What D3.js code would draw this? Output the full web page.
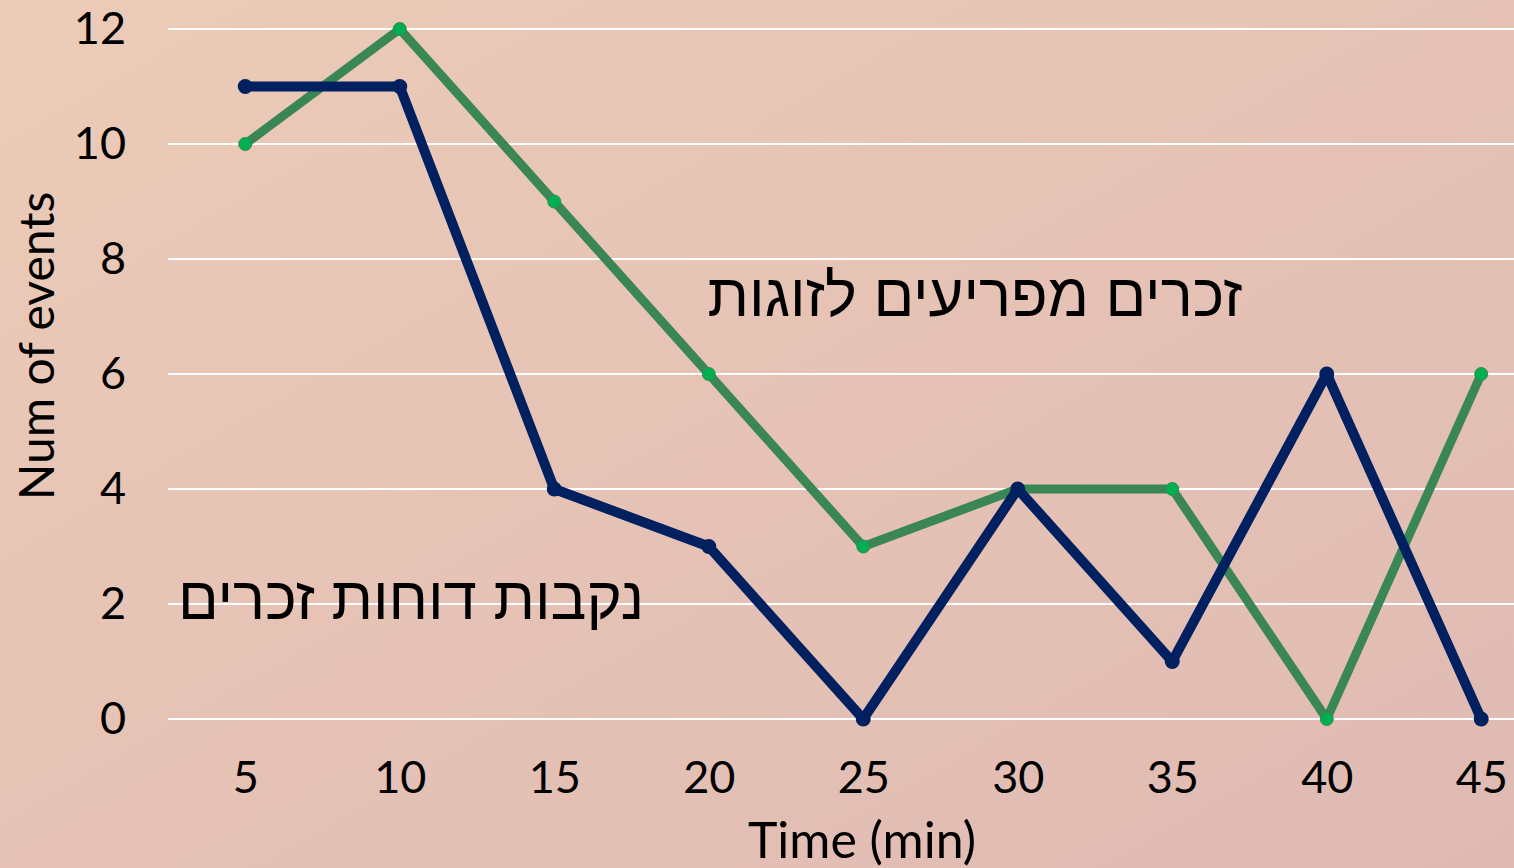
<!DOCTYPE html>
<html><head><meta charset="utf-8">
<script src="https://cdn.jsdelivr.net/npm/d3@7"></script>
<style>html,body{margin:0;padding:0;overflow:hidden;}svg{display:block;}</style>
</head><body>
<svg id="chart" width="1514" height="868"></svg>
<script>
const categories = ["5","10","15","20","25","30","35","40","45"];
const maleRepels = [10,12,9,6,3,4,4,0,6];      // green: זכרים מפריעים לזוגות
const femaleRejects = [11,11,4,3,0,4,1,6,0];   // navy: נקבות דוחות זכרים
const yTicks = [0,2,4,6,8,10,12];

const svg = d3.select("#chart");
const W = 1514, H = 868;
const defs = svg.append("defs");
const grad = defs.append("linearGradient").attr("id","bg").attr("x1","0").attr("y1","0").attr("x2","1").attr("y2","1");
grad.append("stop").attr("offset","0").attr("stop-color","#eccbb7");
grad.append("stop").attr("offset","1").attr("stop-color","#dfbab3");
svg.append("rect").attr("width",W).attr("height",H).attr("fill","url(#bg)");

const x = d3.scalePoint().domain(categories).range([168, 1558.5]).padding(0.5);
const y = d3.scaleLinear().domain([0,12]).range([719,29]);

const font = "Lato, 'Open Sans', sans-serif";

// gridlines
svg.append("g").selectAll("line").data(yTicks).join("line")
  .attr("x1",168).attr("x2",W).attr("y1",d=>y(d)).attr("y2",d=>y(d))
  .attr("stroke","#ffffff").attr("stroke-width",2);

// y axis
const yAxis = svg.append("g").attr("transform","translate(150,0)")
  .call(d3.axisLeft(y).tickValues(yTicks).tickSize(0).tickPadding(24));
yAxis.select(".domain").remove();
yAxis.selectAll("text").attr("font-family",font).attr("font-size",45).attr("fill","#000");

// x axis
const xAxis = svg.append("g").attr("transform","translate(0,719)")
  .call(d3.axisBottom(x).tickSize(0).tickPadding(42));
xAxis.select(".domain").remove();
xAxis.selectAll("text").attr("font-family",font).attr("font-size",45).attr("fill","#000");

// axis titles
svg.append("text").attr("x",862).attr("y",858).attr("text-anchor","middle")
  .attr("font-family",font).attr("font-size",50).attr("fill","#000").text("Time (min)");
svg.append("text").attr("transform","translate(54,346) rotate(-90)").attr("text-anchor","middle")
  .attr("font-family",font).attr("font-size",48).attr("fill","#000").text("Num of events");

const line = d3.line().x((d,i)=>x(categories[i])).y(d=>y(d));

// green series
svg.append("path").datum(maleRepels).attr("d",line).attr("fill","none")
  .attr("stroke","#3a8655").attr("stroke-width",9).attr("stroke-linejoin","round");
svg.append("g").selectAll("circle").data(maleRepels).join("circle")
  .attr("cx",(d,i)=>x(categories[i])).attr("cy",d=>y(d)).attr("r",6.5)
  .attr("fill","#00b050").attr("stroke","#3a8655").attr("stroke-width",1);

// navy series
svg.append("path").datum(femaleRejects).attr("d",line).attr("fill","none")
  .attr("stroke","#002060").attr("stroke-width",10).attr("stroke-linejoin","round");
svg.append("g").selectAll("circle").data(femaleRejects).join("circle")
  .attr("cx",(d,i)=>x(categories[i])).attr("cy",d=>y(d)).attr("r",7.5)
  .attr("fill","#002060");

// series labels
const hfont = "'Liberation Sans', 'DejaVu Sans', sans-serif";
svg.append("text").attr("x",975).attr("y",316).attr("text-anchor","middle").attr("direction","rtl")
  .attr("font-family",hfont).attr("font-size",60).attr("fill","#000").text("זכרים מפריעים לזוגות");
svg.append("text").attr("x",411).attr("y",619).attr("text-anchor","middle").attr("direction","rtl")
  .attr("font-family",hfont).attr("font-size",60).attr("fill","#000").text("נקבות דוחות זכרים");
</script>
</body></html>
